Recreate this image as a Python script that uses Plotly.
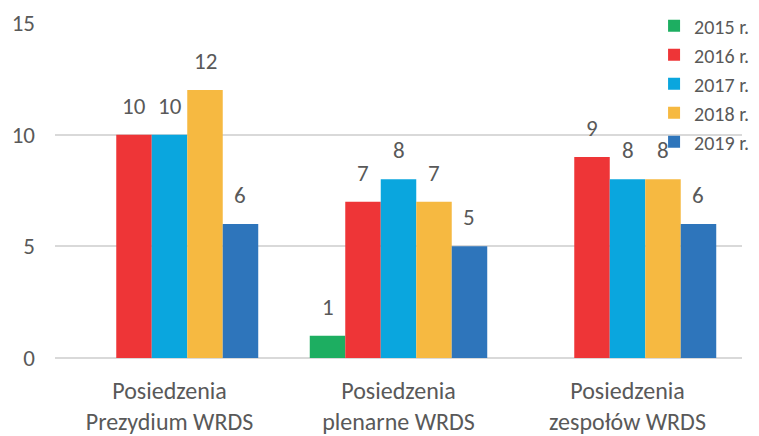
import plotly.graph_objects as go

categories = ["Posiedzenia<br>Prezydium WRDS", "Posiedzenia<br>plenarne WRDS", "Posiedzenia<br>zespołów WRDS"]
series_names = ["2015 r.", "2016 r.", "2017 r.", "2018 r.", "2019 r."]
v2015 = [None, 1, None]
v2016 = [10, 7, 9]
v2017 = [10, 8, 8]
v2018 = [12, 7, 8]
v2019 = [6, 5, 6]
colors = ["#1DAE61", "#EE3537", "#0AA6DE", "#F6B941", "#2E75BB"]
y_ticks = [0, 5, 10, 15]

FONT = "Carlito, Calibri, 'Open Sans', sans-serif"
TXT = "#595959"
BARGAP = 0.225

all_series = [v2015, v2016, v2017, v2018, v2019]
n = len(all_series)
slot = (1 - BARGAP) / n

fig = go.Figure()
annotations = []
for si, (name, vals, col) in enumerate(zip(series_names, all_series, colors)):
    fig.add_trace(go.Bar(
        x=list(range(len(categories))), y=vals, name=name,
        marker=dict(color=col, line=dict(width=0)),
    ))
    for ci, v in enumerate(vals):
        if v is None:
            continue
        annotations.append(dict(
            x=ci + (si - (n - 1) / 2) * slot, y=v, xref="x", yref="y",
            text=str(v), showarrow=False, yanchor="bottom", yshift=13,
            font=dict(family=FONT, size=23, color=TXT),
        ))

# page body has an 8px margin, so the figure is 751x428
fig.update_layout(
    barmode="group", bargap=BARGAP, bargroupgap=0,
    width=751, height=428,
    margin=dict(l=47, r=17, t=15, b=78, autoexpand=False),
    paper_bgcolor="white", plot_bgcolor="white",
    font=dict(family=FONT, color=TXT),
    showlegend=True,
    annotations=annotations,
    legend=dict(x=0.872, y=1.05, xanchor="left", yanchor="top",
                font=dict(family=FONT, size=20, color=TXT),
                bgcolor="rgba(0,0,0,0)", tracegroupgap=0),
    xaxis=dict(showgrid=False, showline=False, ticks="", automargin=False,
               tickmode="array", tickvals=list(range(len(categories))),
               ticktext=categories, range=[-0.5, len(categories) - 0.5],
               ticklabelstandoff=16,
               tickfont=dict(family=FONT, size=24, color=TXT)),
    yaxis=dict(range=[0, 15], tickvals=y_ticks, showgrid=True, automargin=False,
               gridcolor="#D9D9D9", gridwidth=1.5, zeroline=True,
               zerolinecolor="#D9D9D9", zerolinewidth=1.5,
               ticklabelstandoff=19,
               tickfont=dict(family=FONT, size=23, color=TXT)),
)

fig.write_html("out.html")
